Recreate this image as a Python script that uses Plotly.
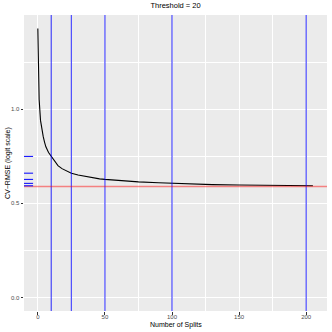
import plotly.graph_objects as go

# Data
splits = [0, 1, 2, 3, 4, 5, 6, 8, 10, 12, 15, 18, 21, 25, 30, 35, 40, 46, 50,
          60, 75, 90, 100, 115, 130, 150, 165, 180, 195, 205]
cv_rmse = [1.428, 1.05, 0.94, 0.89, 0.855, 0.825, 0.80, 0.77, 0.749, 0.727, 0.700,
           0.684, 0.672, 0.660, 0.650, 0.643, 0.636, 0.630, 0.627,
           0.621, 0.614, 0.609, 0.606, 0.602, 0.599, 0.597, 0.596, 0.595, 0.594, 0.593]
chosen_splits = [10, 25, 50, 100, 200]
chosen_values = [0.749, 0.660, 0.627, 0.606, 0.593]
reference_rmse = 0.589
title_text = "Threshold = 20"
x_title = "Number of Splits"
y_title = "CV\u2212RMSE (logit scale)"
x_ticks = [0, 50, 100, 150, 200]
y_ticks = [0.0, 0.5, 1.0]
y_tick_labels = ["0.0", "0.5", "1.0"]

fig = go.Figure()
fig.add_trace(go.Scatter(x=splits, y=cv_rmse, mode="lines",
                         line=dict(color="black", width=1.1), showlegend=False,
                         hoverinfo="skip"))

shapes = []
for s in chosen_splits:
    shapes.append(dict(type="line", xref="x", yref="y domain", x0=s, x1=s, y0=0, y1=1,
                       line=dict(color="rgba(0,0,255,0.7)", width=1.2), layer="above"))
shapes.append(dict(type="line", xref="x domain", yref="y", x0=0, x1=1,
                   y0=reference_rmse, y1=reference_rmse,
                   line=dict(color="rgba(255,0,0,0.45)", width=1.6), layer="above"))
for v in chosen_values:
    shapes.append(dict(type="line", xref="x domain", yref="y", x0=0, x1=0.03,
                       y0=v, y1=v, line=dict(color="blue", width=1), layer="above"))

font_family = "Liberation Sans, Arial, sans-serif"
fig.update_layout(
    width=332, height=332,
    margin=dict(l=24, r=5, t=15, b=21),
    paper_bgcolor="white", plot_bgcolor="#EBEBEB",
    font=dict(family=font_family, color="black"),
    title=dict(text=title_text, x=0.5, xref="paper", xanchor="center",
               y=1, yref="container", yanchor="top", pad=dict(t=3),
               font=dict(size=7.5, color="black")),
    shapes=shapes,
    annotations=[
        dict(text=x_title, xref="paper", yref="paper", x=0.5, y=-0.046,
             xanchor="center", yanchor="middle", showarrow=False,
             font=dict(size=7, color="black")),
        dict(text=y_title, xref="paper", yref="paper", x=-0.053, y=0.5,
             xanchor="center", yanchor="middle", showarrow=False, textangle=-90,
             font=dict(size=7, color="black")),
    ],
    xaxis=dict(range=[-10.3, 215.5], tickmode="array", tickvals=x_ticks,
               automargin=False, ticklabelstandoff=-3,
               ticks="outside", ticklen=2.5, tickcolor="#333333", tickwidth=1,
               tickfont=dict(size=6, color="#4D4D4D"),
               showgrid=True, gridcolor="white", gridwidth=1,
               minor=dict(dtick=25, tick0=25, showgrid=True, gridcolor="white", gridwidth=0.5),
               zeroline=False, showline=False),
    yaxis=dict(range=[-0.0714, 1.4994], tickmode="array", tickvals=y_ticks,
               ticktext=y_tick_labels, automargin=False,
               ticks="outside", ticklen=2.5, tickcolor="#333333", tickwidth=1,
               tickfont=dict(size=6, color="#4D4D4D"),
               showgrid=True, gridcolor="white", gridwidth=1,
               minor=dict(dtick=0.25, tick0=0.25, showgrid=True, gridcolor="white", gridwidth=0.5),
               zeroline=False, showline=False),
)

fig.write_html("out.html", config={"displayModeBar": False},
               post_script="document.body.style.margin='0';document.body.style.overflow='hidden';")
